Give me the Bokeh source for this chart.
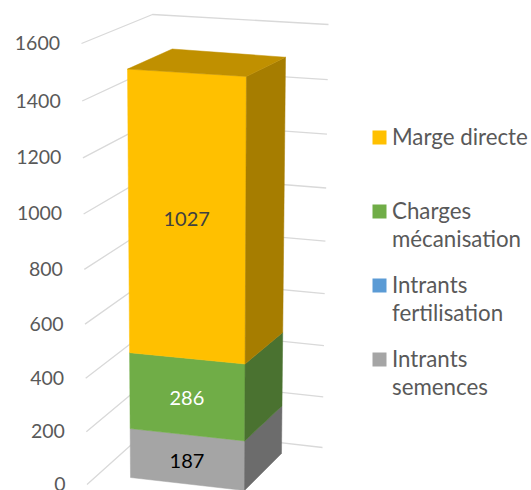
from bokeh.plotting import figure
from bokeh.models import Range1d
from bokeh.core.properties import value
from bokeh.embed import file_html
from bokeh.resources import INLINE

# ---- data ----
series_names = ["Intrants semences", "Intrants fertilisation", "Charges mécanisation", "Marge directe"]
series_values = [187, 0, 286, 1027]
tick_values = [0, 200, 400, 600, 800, 1000, 1200, 1400, 1600]
legend_order = ["Marge directe", "Charges\nmécanisation", "Intrants\nfertilisation", "Intrants\nsemences"]

# ---- styles ----
front = ["#A5A5A5", "#5B9BD5", "#70AD47", "#FFC000"]
side = ["#6C6C6C", "#3C6690", "#4A7230", "#A67D00"]
top_col = "#C09000"
legend_cols = ["#FFC000", "#70AD47", "#5B9BD5", "#A5A5A5"]
label_cols = ["#000000", None, "#FFFFFF", "#404040"]
FONT = value("Lato")
VMAX = 1600.0
K = 1.05

# projected vertical edges of the 3D box: (x at 0, y at 0, x at max, y at max)
E = {
    "wall_l": (86.5, 484, 81, 43),
    "wall_c": (150, 427, 152, 14),
    "wall_r": (322, 447, 328, 24),
    "fl": (130, 477, 126.8, 40),
    "fr": (244, 490, 246.1, 47),
    "br": (281, 453, 285.3, 29),
    "bl": (168, 445.7, 172, 20.7),
}

def proj(edge, v):
    x0, y0, x1, y1 = E[edge]
    s = v / VMAX
    f = s / (s + K * (1 - s))
    return x0 + (x1 - x0) * f, y0 + (y1 - y0) * f

W, H = 531, 490
p = figure(width=W, height=H, output_backend="svg", toolbar_location=None,
           x_range=Range1d(0, W), y_range=Range1d(H, 0),
           x_axis_location=None, y_axis_location=None, min_border=0,
           outline_line_color=None, background_fill_color="white", border_fill_color="white")
p.grid.visible = False

# gridlines on the two walls
for t in tick_values:
    pts = [proj(e, t) for e in ("wall_l", "wall_c", "wall_r")]
    p.line([a[0] for a in pts], [a[1] for a in pts], line_color="#D9D9D9", line_width=1.3)
    x, y = proj("wall_l", t)
    p.text([x - 21.5], [y - 0.5], text=[str(t)], text_font=FONT, text_font_size="19.5px",
           text_color="#595959", text_align="right", text_baseline="middle")

# stacked box
base = 0
for val, fc, sc, lc in zip(series_values, front, side, label_cols):
    topv = base + val
    if val > 0:
        q = [proj("fl", base), proj("fr", base), proj("fr", topv), proj("fl", topv)]
        p.patch([a[0] for a in q], [a[1] for a in q], fill_color=fc, line_color=fc, line_width=0.5)
        q = [proj("fr", base), proj("br", base), proj("br", topv), proj("fr", topv)]
        p.patch([a[0] for a in q], [a[1] for a in q], fill_color=sc, line_color=sc, line_width=0.5)
        mid = base + val / 2
        a, b = proj("fl", mid), proj("fr", mid)
        p.text([(a[0] + b[0]) / 2 - 0.5], [(a[1] + b[1]) / 2 + 1.5], text=[str(val)], text_font=FONT,
               text_font_size="20px", text_color=lc, text_align="center", text_baseline="middle")
    base = topv

q = [proj("fl", base), proj("fr", base), proj("br", base), proj("bl", base)]
p.patch([a[0] for a in q], [a[1] for a in q], fill_color=top_col, line_color=top_col, line_width=0.5)

# legend
leg_y = [137, 211, 285, 359]
for name, col, y in zip(legend_order, legend_cols, leg_y):
    p.quad(left=[372], right=[386], top=[y - 7], bottom=[y + 7], fill_color=col, line_color=None)
    for i, line in enumerate(name.split("\n")):
        p.text([391.5], [y - 1.5 + i * 28.5], text=[line], text_font=FONT, text_font_size="22.3px",
               text_color="#595959", text_align="left", text_baseline="middle")

open("out.html", "w").write(file_html(p, INLINE))
